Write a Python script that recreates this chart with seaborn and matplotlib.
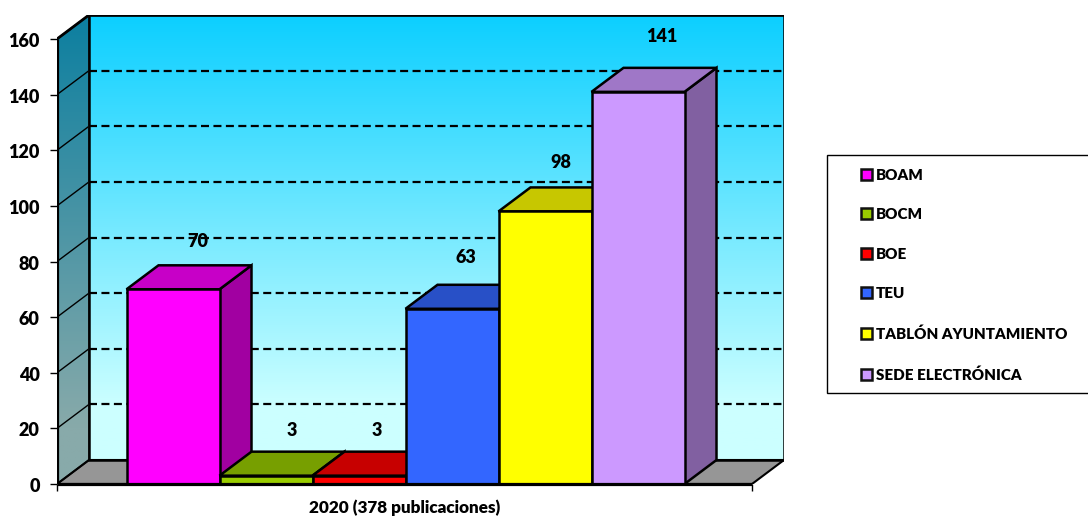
import numpy as np
import pandas as pd
import seaborn as sns
import matplotlib
matplotlib.use("Agg")
import matplotlib.pyplot as plt
from matplotlib.colors import LinearSegmentedColormap, to_rgb
from matplotlib.patches import Polygon, Rectangle
from matplotlib.transforms import ScaledTranslation

# Publication counts per channel
categories = ["BOAM", "BOCM", "BOE", "TEU", "TABLÓN AYUNTAMIENTO", "SEDE ELECTRÓNICA"]
values = [70, 3, 3, 63, 98, 141]
y_ticks = [0, 20, 40, 60, 80, 100, 120, 140, 160]
x_title = "2020 (378 publicaciones)"

face_colors = ["#FF00FF", "#99CC00", "#FF0000", "#3366FF", "#FFFF00", "#CC99FF"]

# Pixel layout of the pseudo-3D box
W, H = 1088, 516
AX_L, AX_R, AX_T, AX_B = 57, 784, 15, 484
PX_PER_X = 93.0
PX_PER_Y = 445 / 160
DEPTH_PX = (32, 24)
BAR0_LEFT = 126.5
FRONT_RIGHT = 752

dx = DEPTH_PX[0] / PX_PER_X
dy = DEPTH_PX[1] / PX_PER_Y
x_left = -0.5 - (BAR0_LEFT - AX_L) / PX_PER_X
x_right = x_left + (FRONT_RIGHT - AX_L) / PX_PER_X
y_top = 160.0

LABEL_FONT = "Lato"
TEXT_WEIGHT = "heavy"
EDGE = 1.8

sns.set_theme(style="white")
plt.rcParams["font.family"] = [LABEL_FONT, "DejaVu Sans"]

fig = plt.figure(figsize=(W / 100, H / 100), dpi=100)
ax = fig.add_axes([AX_L / W, 1 - AX_B / H, (AX_R - AX_L) / W, (AX_B - AX_T) / H])
ax.patch.set_alpha(0)


def shade(color, factor):
    return tuple(c * factor for c in to_rgb(color))


def gradient_wall(points, top_color, bottom_color, z):
    """Fill a polygon with a vertical gradient that settles before the floor."""
    xs, ys = zip(*points)
    cmap = LinearSegmentedColormap.from_list(
        "wall", [(0.0, top_color), (0.88, bottom_color), (1.0, bottom_color)])
    im = ax.imshow(np.linspace(0, 1, 256)[:, None], cmap=cmap, aspect="auto",
                   extent=[min(xs), max(xs), min(ys), max(ys)], zorder=z, origin="upper")
    clip = Polygon(points, closed=True, transform=ax.transData, facecolor="none", edgecolor="none")
    ax.add_patch(clip)
    im.set_clip_path(clip)


# Side wall, back wall and floor
side_wall = [(x_left, 0), (x_left + dx, dy), (x_left + dx, y_top + dy), (x_left, y_top)]
back_wall = [(x_left + dx, dy), (x_right + dx, dy), (x_right + dx, y_top + dy), (x_left + dx, y_top + dy)]
floor = [(x_left, 0), (x_right, 0), (x_right + dx, dy), (x_left + dx, dy)]

gradient_wall(side_wall, "#0C7FA0", "#88AAAA", 0.5)
gradient_wall(back_wall, "#0CCFFF", "#CCFFFF", 0.5)
ax.add_patch(Polygon(floor, closed=True, facecolor="#969696", edgecolor="none", zorder=0.6))

# Gridlines across the back wall and down the side wall
for tick in y_ticks[1:-1]:
    ax.plot([x_left + dx, x_right + dx], [tick + dy, tick + dy], color="black", lw=1.6,
            dashes=(3.6, 2.0), zorder=0.8)
    ax.plot([x_left, x_left + dx], [tick, tick + dy], color="black", lw=1.0, zorder=0.8)

# Box outline
for poly, lw, col in [(side_wall, 1.3, "#222222"), (back_wall, 1.8, "black"), (floor, 1.5, "black")]:
    ax.add_patch(Polygon(poly, closed=True, facecolor="none", edgecolor=col, lw=lw, zorder=0.9))
ax.plot([x_left, x_left], [0, y_top], color="black", lw=2.3, zorder=1, solid_capstyle="butt")
ax.plot([x_left, x_left + dx, x_right + dx], [y_top, y_top + dy, y_top + dy], color="black", lw=2.0, zorder=1)

# Front faces
df = pd.DataFrame({"canal": categories, "publicaciones": values})
sns.barplot(data=df, x="canal", y="publicaciones", hue="canal", order=categories, hue_order=categories,
            palette=face_colors, width=1.0, edgecolor="black", linewidth=EDGE, saturation=1,
            legend=False, ax=ax)

# Top and right faces of each bar, stacked left to right
for i, (val, col) in enumerate(zip(values, face_colors)):
    base_z = 2 + i
    for patch in ax.containers[i]:
        patch.set_zorder(base_z + 0.5)
    l, r = i - 0.5, i + 0.5
    top = [(l, val), (r, val), (r + dx, val + dy), (l + dx, val + dy)]
    side = [(r, 0), (r + dx, dy), (r + dx, val + dy), (r, val)]
    ax.add_patch(Polygon(side, closed=True, facecolor=shade(col, 0.63), edgecolor="black", lw=EDGE, zorder=base_z))
    ax.add_patch(Polygon(top, closed=True, facecolor=shade(col, 0.78), edgecolor="black", lw=EDGE, zorder=base_z + 0.2))

# Value labels float above and behind each bar
label_shift_px = [(25, 48), (26, 45), (18, 45), (14, 51), (16, 49), (24, 55)]
for i, (val, shift) in enumerate(zip(values, label_shift_px)):
    ax.annotate(str(val), xy=(i, val), xytext=shift, textcoords="offset pixels",
                ha="center", va="center", fontsize=13, fontweight=TEXT_WEIGHT, color="black", zorder=20)

# Axes furniture
ax.set_xlim(x_left, x_left + (AX_R - AX_L) / PX_PER_X)
ax.set_ylim(0, (AX_B - AX_T) / PX_PER_Y)
for spine in ax.spines.values():
    spine.set_visible(False)
ax.plot([x_left, x_right], [0, 0], color="black", lw=2.3, zorder=15, clip_on=False, solid_capstyle="butt")
ax.set_yticks(y_ticks)
ax.set_yticklabels([str(t) for t in y_ticks], fontsize=13, fontweight=TEXT_WEIGHT, color="black")
ax.set_xticks([x_left, x_right])
ax.set_xticklabels(["", ""])
ax.tick_params(axis="both", which="major", length=5, width=1.0, color="black", left=True, bottom=True, pad=7.5)
nudge = ScaledTranslation(0, -1 / 100, fig.dpi_scale_trans)
for label in ax.get_yticklabels():
    label.set_transform(label.get_transform() + nudge)
ax.set_ylabel("")
ax.set_xlabel(x_title, fontsize=12.3, fontweight=TEXT_WEIGHT, color="black")
ax.xaxis.set_label_coords((405 - AX_L) / (AX_R - AX_L), -(508 - AX_B) / (AX_B - AX_T), transform=ax.transAxes)
ax.xaxis.label.set_verticalalignment("center")

# Legend panel runs off the right edge of the canvas
fig.add_artist(Rectangle((827 / W, 1 - 393 / H), 300 / W, 238 / H, transform=fig.transFigure,
                         facecolor="white", edgecolor="black", lw=1.0, clip_on=True))
handles = [Rectangle((0, 0), 1, 1, facecolor=c, edgecolor="#111111", lw=1.8) for c in face_colors]
fig.legend(handles, categories, loc="upper left", bbox_to_anchor=(847 / W, 1 - 155 / H),
           frameon=False, handlelength=0.72, handleheight=0.72, handletextpad=0.27, labelspacing=1.75,
           prop={"family": LABEL_FONT, "weight": TEXT_WEIGHT, "size": 10.9}, labelcolor="black")

fig.savefig("out.png", dpi=100)
